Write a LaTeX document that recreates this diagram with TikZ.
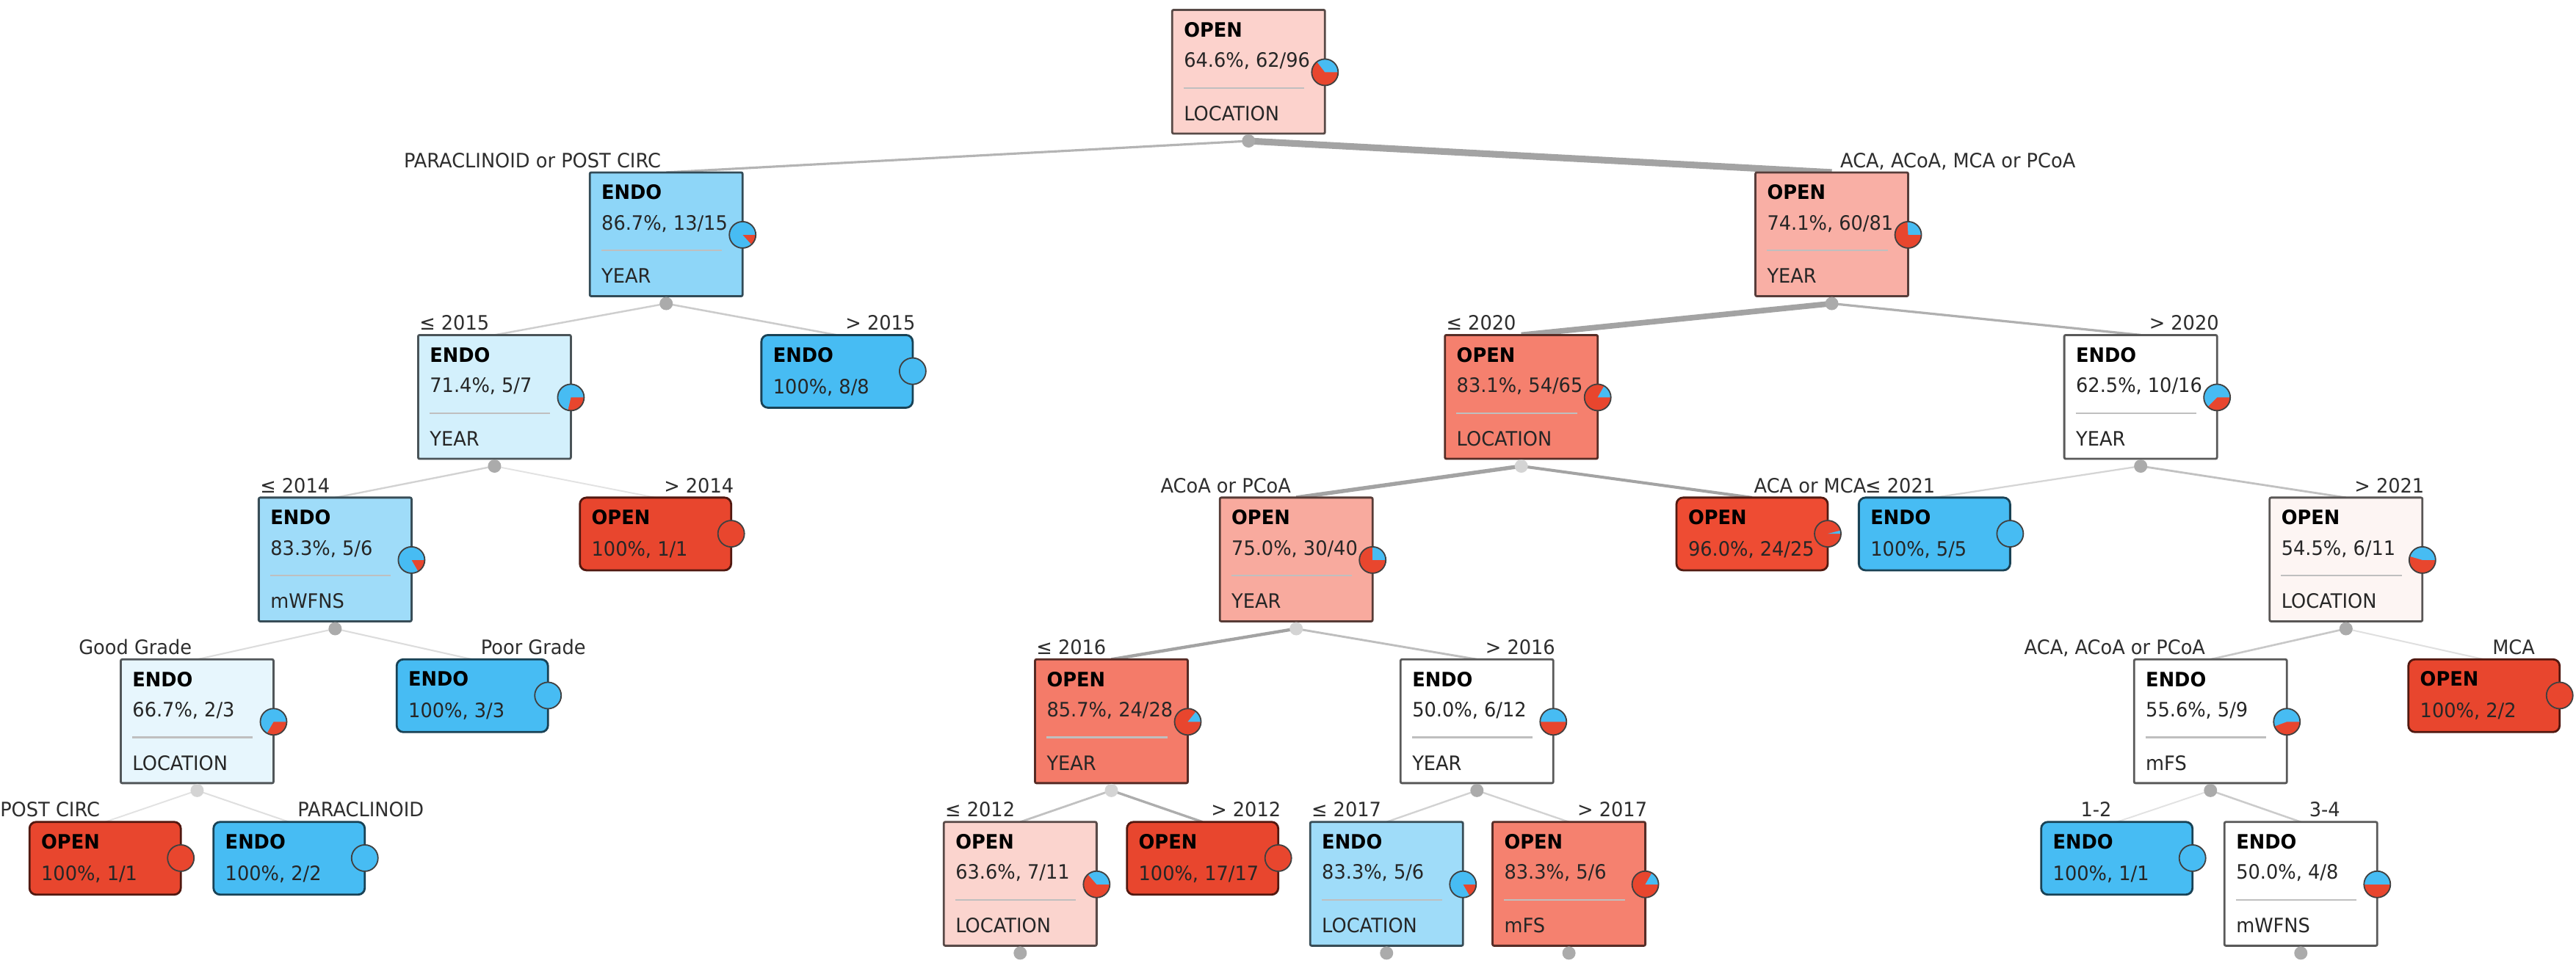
\documentclass[tikz,border=0pt]{standalone}
\usepackage{fontspec}
\setmainfont{DejaVu Sans}[FakeStretch=0.95]
\usetikzlibrary{calc}
\pgfdeclarelayer{bg}
\pgfsetlayers{bg,main}
\definecolor{endoc}{HTML}{47BCF3}
\definecolor{openc}{HTML}{E8462E}
\definecolor{fA}{HTML}{FCD2CC}% 64.6 open
\definecolor{fB}{HTML}{8ED6F8}% 86.7 endo
\definecolor{fC}{HTML}{F9AFA5}% 74.1 open
\definecolor{fD}{HTML}{D3F0FC}% 71.4 endo
\definecolor{fE}{HTML}{F5806E}% 83.1 open
\definecolor{fF}{HTML}{9FDCF9}% 83.3 endo
\definecolor{fG}{HTML}{F8AA9E}% 75.0 open
\definecolor{fH}{HTML}{FDF5F3}% 54.5 open
\definecolor{fI}{HTML}{E7F6FD}% 66.7 endo
\definecolor{fJ}{HTML}{F47B69}% 85.7 open
\definecolor{fK}{HTML}{FBD4CE}% 63.6 open
\definecolor{fL}{HTML}{F5816F}% 83.3 open
\definecolor{fM}{HTML}{EE4C33}% 96.0 open
\tikzset{
  ibox/.style={rectangle, inner sep=0pt, outer sep=0pt, anchor=north,
    minimum width=104pt, minimum height=84.3pt, line width=1.4pt, rounded corners=1pt},
  lbox/.style={rectangle, inner sep=0pt, outer sep=0pt, anchor=north,
    minimum width=103pt, minimum height=49.5pt, line width=1.4pt, rounded corners=4.5pt},
  ttl/.style={anchor=base west, inner sep=0pt, font=\fontsize{13.5pt}{16pt}\selectfont\bfseries, text=black},
  stat/.style={anchor=base west, inner sep=0pt, font=\fontsize{13.5pt}{16pt}\selectfont, text=black!85},
  lab/.style={inner sep=0pt, font=\fontsize{13.5pt}{16pt}\selectfont, text=black!82},
  sepline/.style={draw=black!25, line width=1.1pt},
  pieline/.style={draw=black!75, line width=0.9pt},
  dotdark/.style={fill=black!33},
  dotlight/.style={fill=black!17},
}
\newcommand{\pieat}[2]{%
  \pgfmathsetmacro\pang{360*#2}%
  \fill[openc] (#1) circle[radius=9pt];
  \ifdim #2pt>0pt
    \fill[endoc] (#1) -- ([shift={(0:9pt)}]#1) arc[start angle=0, end angle=\pang, radius=9pt] -- cycle;
  \fi
  \draw[pieline] (#1) circle[radius=9pt];}
\newcommand{\inode}[9]{%
  \node[ibox, fill=#4, draw=#4!35!black] (#1) at (#2,-#3) {};
  \node[ttl] (#1-t) at ([xshift=7.8pt,yshift=-18.5pt]#1.north west) {#5};
  \node[stat] (#1-s) at ([xshift=7.8pt,yshift=-39.1pt]#1.north west) {#6};
  \draw[sepline] ([xshift=7.8pt,yshift=-53.1pt]#1.north west) -- ([xshift=90pt,yshift=-53.1pt]#1.north west);
  \node[stat] (#1-v) at ([xshift=7.8pt,yshift=-75.5pt]#1.north west) {#7};
  \coordinate (#1-p) at ([yshift=-42.5pt]#1.north east);
  \pieat{#1-p}{#8}
  \coordinate (#1-d) at ([yshift=-5pt]#1.south);
  \fill[#9] (#1-d) circle[radius=4.5pt];}
\newcommand{\lnode}[7]{%
  \node[lbox, fill=#4, draw=#4!35!black] (#1) at (#2,-#3) {};
  \node[ttl] (#1-t) at ([xshift=7.8pt,yshift=-18.3pt]#1.north west) {#5};
  \node[stat] (#1-s) at ([xshift=7.8pt,yshift=-39.8pt]#1.north west) {#6};
  \coordinate (#1-p) at ([yshift=-24.6pt]#1.north east);
  \pieat{#1-p}{#7}}
\newcommand{\tedge}[6][0pt]{%
  \pgfmathsetmacro\ew{0.9+0.045*#4}%
  \pgfmathsetmacro\ek{10+26*min(1,#4/20)}%
  \begin{pgfonlayer}{bg}
    \draw[line width=\ew pt, draw=black!\ek] (#2-d) -- (#3.north);
  \end{pgfonlayer}
  \ifx L#5
    \node[lab, anchor=base east] (#3-l) at ([xshift=-3.4pt+#1,yshift=3.4pt]#3.north) {#6};
  \else
    \node[lab, anchor=base west] (#3-l) at ([xshift=5.6pt+#1,yshift=3.4pt]#3.north) {#6};
  \fi}
\begin{document}
\begin{tikzpicture}[x=1.1185pt, y=1.1185pt]
\useasboundingbox (0,0) rectangle (1568,-587.8);
\begin{pgfonlayer}{bg}
\fill[white] (0,0) rectangle (1568,-587.8);
\end{pgfonlayer}
% internal nodes
\inode{root}{760}{6}{fA}{OPEN}{64.6\%, 62/96}{LOCATION}{0.354}{dotdark}
\inode{a}{405.5}{105}{fB}{ENDO}{86.7\%, 13/15}{YEAR}{0.867}{dotdark}
\inode{b}{1115}{105}{fC}{OPEN}{74.1\%, 60/81}{YEAR}{0.259}{dotdark}
\inode{aa}{301}{204}{fD}{ENDO}{71.4\%, 5/7}{YEAR}{0.714}{dotdark}
\inode{ba}{926}{204}{fE}{OPEN}{83.1\%, 54/65}{LOCATION}{0.169}{dotlight}
\inode{bb}{1303}{204}{white}{ENDO}{62.5\%, 10/16}{YEAR}{0.625}{dotdark}
\inode{aaa}{204}{303}{fF}{ENDO}{83.3\%, 5/6}{mWFNS}{0.833}{dotdark}
\inode{baa}{789}{303}{fG}{OPEN}{75.0\%, 30/40}{YEAR}{0.25}{dotlight}
\inode{bbb}{1428}{303}{fH}{OPEN}{54.5\%, 6/11}{LOCATION}{0.455}{dotdark}
\inode{aaaa}{120}{401.5}{fI}{ENDO}{66.7\%, 2/3}{LOCATION}{0.667}{dotlight}
\inode{baaa}{676.5}{401.5}{fJ}{OPEN}{85.7\%, 24/28}{YEAR}{0.143}{dotlight}
\inode{baab}{899}{401.5}{white}{ENDO}{50.0\%, 6/12}{YEAR}{0.5}{dotdark}
\inode{bbba}{1345.5}{401.5}{white}{ENDO}{55.6\%, 5/9}{mFS}{0.556}{dotdark}
\inode{baaaa}{621}{500.5}{fK}{OPEN}{63.6\%, 7/11}{LOCATION}{0.364}{dotdark}
\inode{baaba}{844}{500.5}{fF}{ENDO}{83.3\%, 5/6}{LOCATION}{0.833}{dotdark}
\inode{baabb}{955}{500.5}{fL}{OPEN}{83.3\%, 5/6}{mFS}{0.167}{dotdark}
\inode{bbbab}{1400.5}{500.5}{white}{ENDO}{50.0\%, 4/8}{mWFNS}{0.5}{dotdark}
% leaves
\lnode{ab}{509.5}{204}{endoc}{ENDO}{100\%, 8/8}{1}
\lnode{aab}{399}{303}{openc}{OPEN}{100\%, 1/1}{0}
\lnode{bab}{1066.5}{303}{fM}{OPEN}{96.0\%, 24/25}{0.04}
\lnode{bba}{1177.5}{303}{endoc}{ENDO}{100\%, 5/5}{1}
\lnode{aaab}{287.5}{401.5}{endoc}{ENDO}{100\%, 3/3}{1}
\lnode{bbbb}{1512}{401.5}{openc}{OPEN}{100\%, 2/2}{0}
\lnode{aaaaa}{64}{500.5}{openc}{OPEN}{100\%, 1/1}{0}
\lnode{aaaab}{176}{500.5}{endoc}{ENDO}{100\%, 2/2}{1}
\lnode{baaab}{732}{500.5}{openc}{OPEN}{100\%, 17/17}{0}
\lnode{bbbaa}{1288.5}{500.5}{endoc}{ENDO}{100\%, 1/1}{1}
% edges
\tedge{root}{a}{15}{L}{PARACLINOID or POST CIRC}
\tedge{root}{b}{81}{R}{ACA, ACoA, MCA or PCoA}
\tedge{a}{aa}{7}{L}{≤ 2015}
\tedge{a}{ab}{8}{R}{> 2015}
\tedge{aa}{aaa}{6}{L}{≤ 2014}
\tedge{aa}{aab}{1}{R}{> 2014}
\tedge{aaa}{aaaa}{3}{L}{Good Grade}
\tedge{aaa}{aaab}{3}{R}{Poor Grade}
\tedge{aaaa}{aaaaa}{1}{L}{POST CIRC}
\tedge{aaaa}{aaaab}{2}{R}{PARACLINOID}
\tedge{b}{ba}{65}{L}{≤ 2020}
\tedge{b}{bb}{16}{R}{> 2020}
\tedge{ba}{baa}{40}{L}{ACoA or PCoA}
\tedge[-4.5pt]{ba}{bab}{25}{R}{ACA or MCA}
\tedge[4pt]{bb}{bba}{5}{L}{≤ 2021}
\tedge{bb}{bbb}{11}{R}{> 2021}
\tedge{baa}{baaa}{28}{L}{≤ 2016}
\tedge{baa}{baab}{12}{R}{> 2016}
\tedge{baaa}{baaaa}{11}{L}{≤ 2012}
\tedge{baaa}{baaab}{17}{R}{> 2012}
\tedge{baab}{baaba}{6}{L}{≤ 2017}
\tedge{baab}{baabb}{6}{R}{> 2017}
\tedge{bbb}{bbba}{9}{L}{ACA, ACoA or PCoA}
\tedge{bbb}{bbbb}{2}{R}{MCA}
\tedge{bbba}{bbbaa}{1}{L}{1-2}
\tedge{bbba}{bbbab}{8}{R}{3-4}
\end{tikzpicture}
\end{document}
